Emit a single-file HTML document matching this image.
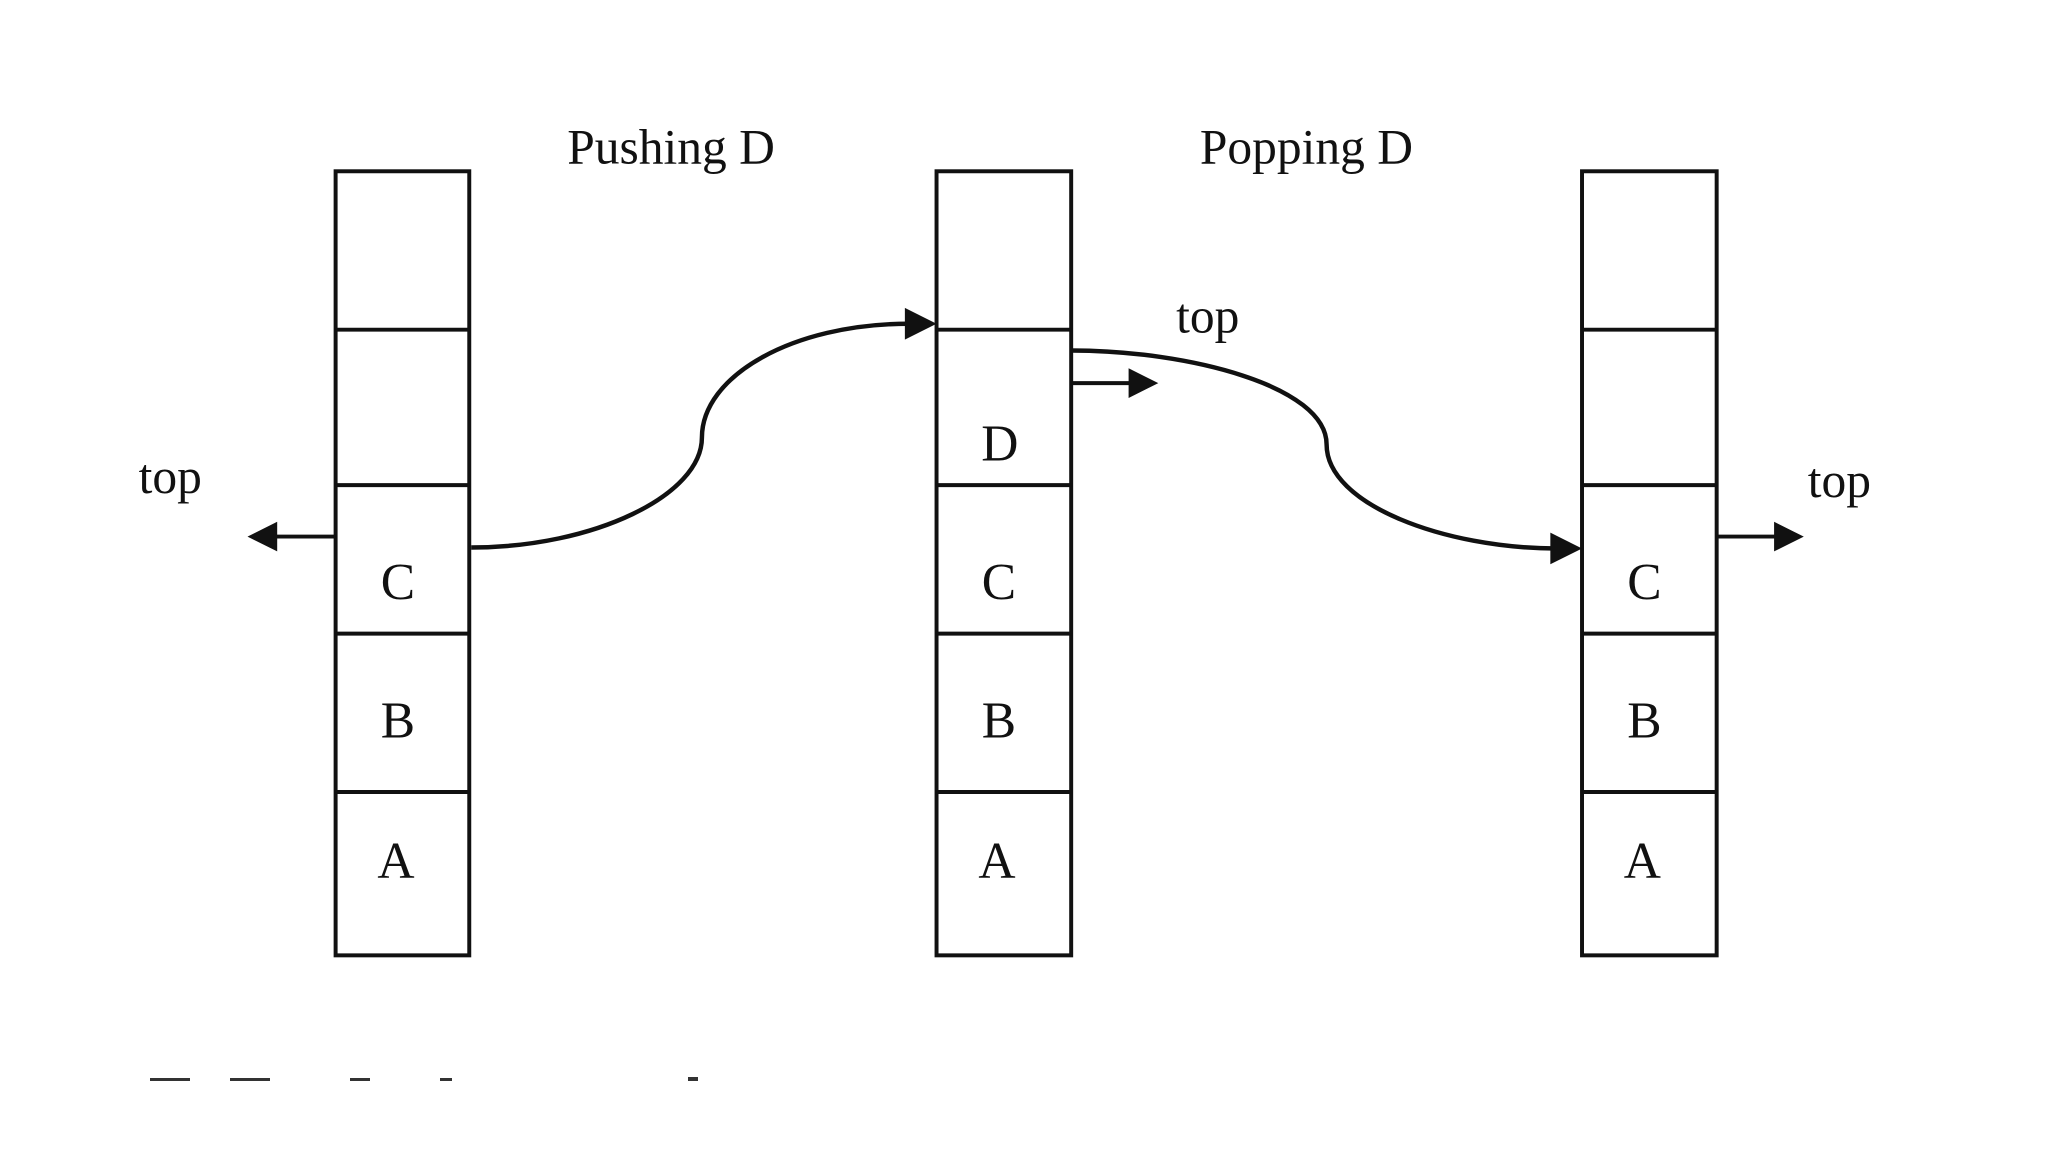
<!DOCTYPE html>
<html><head><style>
html,body{margin:0;padding:0;background:#fff;}
svg{display:block;}
text{font-family:"Liberation Serif",serif;fill:#111;}
</style></head><body>
<svg width="2048" height="1152" viewBox="0 0 2048 1152">
<g transform="scale(0.99)">
<g fill="none" stroke="#111" stroke-width="4">
<rect x="339" y="173" width="135" height="792"/>
<line x1="339" y1="333" x2="474" y2="333"/><line x1="339" y1="490" x2="474" y2="490"/><line x1="339" y1="640" x2="474" y2="640"/><line x1="339" y1="800" x2="474" y2="800"/>
<rect x="946" y="173" width="136" height="792"/>
<line x1="946" y1="333" x2="1082" y2="333"/><line x1="946" y1="490" x2="1082" y2="490"/><line x1="946" y1="640" x2="1082" y2="640"/><line x1="946" y1="800" x2="1082" y2="800"/>
<rect x="1598" y="173" width="136" height="792"/>
<line x1="1598" y1="333" x2="1734" y2="333"/><line x1="1598" y1="490" x2="1734" y2="490"/><line x1="1598" y1="640" x2="1734" y2="640"/><line x1="1598" y1="800" x2="1734" y2="800"/>
<line x1="339" y1="542" x2="272" y2="542"/>
<line x1="1082" y1="387" x2="1145" y2="387"/>
<line x1="1734" y1="542" x2="1798" y2="542"/>
<path d="M476,553 C600,553 709,500 709,442 C709,380 800,327 918,327" stroke-width="4.5"/>
<path d="M1082,354 C1200,354 1340,390 1340,449 C1340,510 1460,554 1572,554" stroke-width="4.5"/>
</g>
<g fill="#111">
<polygon points="250,542 280,527 280,557"/>
<polygon points="1170,387 1140,372 1140,402"/>
<polygon points="1822,542 1792,527 1792,557"/>
<polygon points="946,327 914,311 914,343"/>
<polygon points="1598,554 1566,538 1566,570"/>
</g>
<g font-size="52" text-anchor="middle">
<text x="402" y="605">C</text><text x="402" y="745">B</text><text x="400" y="887">A</text>
<text x="1010" y="465">D</text><text x="1009" y="605">C</text><text x="1009" y="745">B</text><text x="1007" y="887">A</text>
<text x="1661" y="605">C</text><text x="1661" y="745">B</text><text x="1659" y="887">A</text>
</g>
<g font-size="50">
<text x="573" y="165">Pushing D</text>
<text x="1212" y="165">Popping D</text>
<text x="140" y="498">top</text>
<text x="1188" y="336">top</text>
<text x="1826" y="502">top</text>
</g>
</g>
<g fill="#333">
<rect x="150" y="1078" width="40" height="3"/>
<rect x="230" y="1078" width="40" height="3"/>
<rect x="350" y="1078" width="20" height="3"/>
<rect x="440" y="1078" width="12" height="3"/>
<rect x="688" y="1077" width="10" height="4"/>
</g>
</svg>
</body></html>
